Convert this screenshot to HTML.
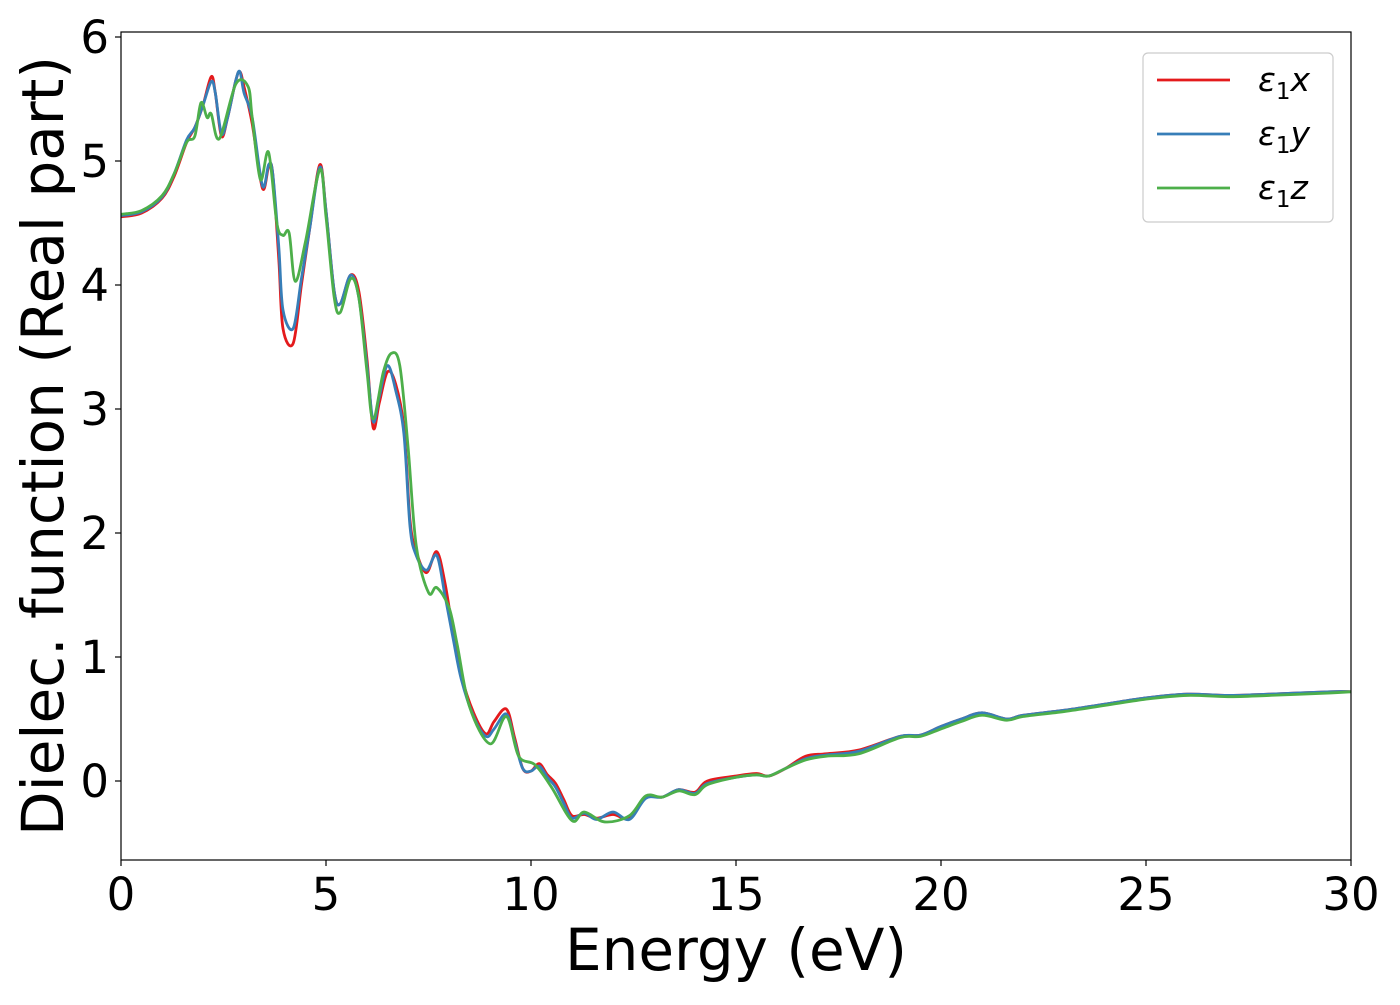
<!DOCTYPE html>
<html><head><meta charset="utf-8"><style>
body{margin:0;background:#fff;width:1400px;height:1000px;overflow:hidden}
text{font-family:"DejaVu Sans","Liberation Sans",sans-serif;fill:#000}
</style></head><body>
<svg id="chart" width="1400" height="1000" xmlns="http://www.w3.org/2000/svg">
<g id="plot"></g>
</svg>
<script>
const xTicks=[0,5,10,15,20,25,30];
const yTicks=[0,1,2,3,4,5,6];
const seriesNames=["x","y","z"];
const energyX=[0,0.5,1.0,1.3,1.6,1.8,2.0,2.2,2.3,2.45,2.6,2.8,2.9,3.0,3.2,3.45,3.6,3.7,3.85,3.95,4.2,4.4,4.6,4.85,5.0,5.2,5.35,5.6,5.8,6.0,6.15,6.3,6.5,6.7,6.9,7.05,7.2,7.45,7.7,7.9,8.1,8.3,8.6,8.9,9.1,9.4,9.6,9.8,10.0,10.2,10.4,10.6,10.8,11.0,11.3,11.6,12.0,12.4,12.8,13.2,13.6,14.0,14.3,15.0,15.5,15.8,16.2,16.7,17.2,18.0,19.0,19.5,20.0,20.5,21.0,21.6,22.0,23.0,24.0,25.0,26.0,27.0,28.0,29.5,30];
const valuesX=[4.55,4.58,4.7,4.88,5.15,5.27,5.45,5.68,5.55,5.2,5.35,5.65,5.72,5.6,5.3,4.78,4.95,4.9,4.2,3.65,3.53,4.0,4.45,4.97,4.6,3.95,3.85,4.08,3.95,3.4,2.85,3.05,3.3,3.2,2.85,2.1,1.85,1.68,1.85,1.6,1.2,0.85,0.55,0.38,0.48,0.58,0.35,0.1,0.08,0.14,0.05,-0.02,-0.15,-0.28,-0.27,-0.3,-0.27,-0.3,-0.13,-0.13,-0.07,-0.09,0.0,0.04,0.06,0.04,0.1,0.2,0.22,0.25,0.36,0.37,0.44,0.5,0.55,0.5,0.53,0.57,0.62,0.67,0.7,0.69,0.7,0.72,0.72];
const valuesY=[4.56,4.59,4.71,4.9,5.17,5.27,5.45,5.64,5.55,5.22,5.35,5.65,5.72,5.55,5.35,4.8,4.97,4.9,4.3,3.8,3.65,4.05,4.45,4.95,4.6,3.95,3.85,4.08,3.9,3.35,2.9,3.1,3.35,3.15,2.8,2.05,1.82,1.7,1.82,1.5,1.15,0.82,0.52,0.36,0.42,0.54,0.32,0.1,0.08,0.12,0.03,-0.05,-0.18,-0.3,-0.26,-0.31,-0.25,-0.31,-0.14,-0.13,-0.07,-0.1,-0.02,0.03,0.05,0.04,0.1,0.18,0.21,0.24,0.36,0.37,0.44,0.5,0.55,0.5,0.53,0.57,0.62,0.67,0.7,0.69,0.7,0.72,0.72];
const energyZ=[0,0.5,1.0,1.3,1.6,1.8,1.95,2.1,2.2,2.4,2.8,3.1,3.2,3.4,3.6,3.8,3.95,4.1,4.25,4.5,4.85,5.0,5.2,5.35,5.6,5.8,6.0,6.15,6.4,6.6,6.8,7.0,7.2,7.5,7.7,8.0,8.2,8.5,9.0,9.4,9.7,10.1,10.5,11.0,11.3,11.8,12.4,12.8,13.2,13.6,14.0,14.3,15.0,15.5,15.8,16.2,16.7,17.2,18.0,19.0,19.5,20.0,20.5,21.0,21.6,22.0,23.0,24.0,25.0,26.0,27.0,28.0,29.5,30];
const valuesZ=[4.57,4.6,4.72,4.9,5.15,5.2,5.47,5.35,5.38,5.18,5.62,5.6,5.35,4.85,5.07,4.5,4.4,4.42,4.03,4.35,4.93,4.55,3.9,3.78,4.05,3.9,3.3,2.92,3.3,3.45,3.35,2.7,1.9,1.52,1.56,1.4,1.1,0.6,0.3,0.52,0.2,0.13,-0.05,-0.32,-0.25,-0.33,-0.28,-0.12,-0.13,-0.08,-0.11,-0.03,0.03,0.05,0.04,0.1,0.17,0.2,0.22,0.35,0.36,0.42,0.48,0.53,0.49,0.52,0.56,0.61,0.66,0.69,0.68,0.69,0.71,0.72];
const colors=["#e41a1c","#377eb8","#4daf4a"];
const NS="http://www.w3.org/2000/svg";
const L=121,R=1351,T=32,B=860;
const xS=v=>L+(v-0)/(30-0)*(R-L);
const yS=v=>781-v*124;
const g=document.getElementById('plot');
function mk(t,a,p){const e=document.createElementNS(NS,t);for(const k in a)e.setAttribute(k,a[k]);(p||g).appendChild(e);return e;}
function path(xs,ys){
  const p=xs.map((x,i)=>[xS(x),yS(ys[i])]);
  let d="M"+p[0][0]+","+p[0][1];
  for(let i=0;i<p.length-1;i++){
    const p0=p[Math.max(0,i-1)],p1=p[i],p2=p[i+1],p3=p[Math.min(p.length-1,i+2)];
    const c1=[p1[0]+(p2[0]-p0[0])/6,p1[1]+(p2[1]-p0[1])/6];
    const c2=[p2[0]-(p3[0]-p1[0])/6,p2[1]-(p3[1]-p1[1])/6];
    d+=`C${c1[0]},${c1[1]} ${c2[0]},${c2[1]} ${p2[0]},${p2[1]}`;
  }
  return d;
}
const clip=mk('clipPath',{id:'cp'});
mk('rect',{x:L,y:T,width:R-L,height:B-T},clip);
const sx=[energyX,energyX,energyZ],sy=[valuesX,valuesY,valuesZ];
for(let s=0;s<3;s++){
  const e=mk('path',{d:path(sx[s],sy[s]),fill:'none',stroke:colors[s],'stroke-width':2.8,'clip-path':'url(#cp)'});
  
  
}
const fr=mk('rect',{x:L,y:T,width:R-L,height:B-T,fill:'none',stroke:'#000','stroke-width':1.2});


xTicks.forEach(v=>{
  mk('line',{x1:xS(v),x2:xS(v),y1:B,y2:B+6,stroke:'#000','stroke-width':1.2});
  const t=mk('text',{x:xS(v),y:B+50,'text-anchor':'middle','font-size':45});
  t.textContent=v;
  
  
});
yTicks.forEach(v=>{
  mk('line',{x1:L-6,x2:L,y1:yS(v),y2:yS(v),stroke:'#000','stroke-width':1.2});
  const t=mk('text',{x:L-12,y:yS(v)+16,'text-anchor':'end','font-size':45});
  t.textContent=v;
  
  
});
const xt=mk('text',{x:(L+R)/2,y:970,'text-anchor':'middle','font-size':58});
xt.textContent='Energy (eV)';


const yt=mk('text',{x:0,y:0,'text-anchor':'middle','font-size':58,transform:`translate(63,${(T+B)/2}) rotate(-90)`});
yt.textContent='Dielec. function (Real part)';


const lg=mk('g',{});


mk('rect',{x:1143,y:53,width:190,height:169,rx:5,fill:'#fff',stroke:'#ccc','stroke-width':1.2},lg);
seriesNames.forEach((n,i)=>{
  const y=80+i*54;
  const ln=mk('line',{x1:1157,x2:1230,y1:y,y2:y,stroke:colors[i],'stroke-width':2.8},lg);
  
  
  const t=mk('text',{x:1258,y:y+11,'font-size':33,'font-style':'italic'},lg);
  t.innerHTML='ε<tspan font-style="normal" font-size="23" dy="8">1</tspan><tspan dy="-8">'+n+'</tspan>';
  
  
});
</script>
</body></html>
